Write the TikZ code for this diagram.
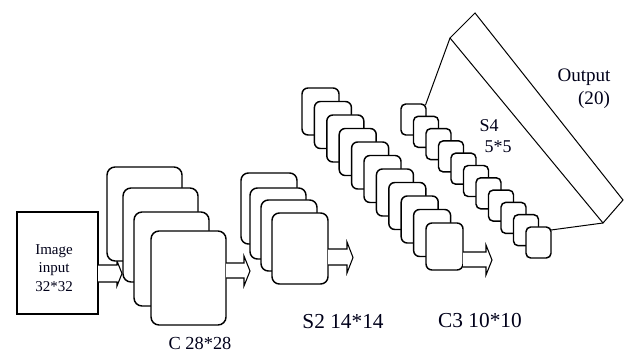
\documentclass[tikz,border=0pt]{standalone}
\usepackage{fontspec}
\setmainfont{Liberation Serif}
\usetikzlibrary{calc}
\begin{document}
\begin{tikzpicture}[x=0.75pt,y=-0.75pt,
  fmap/.style={draw=black, fill=white, line width=1.1pt, rounded corners=#1,
    inner sep=0pt, outer sep=0pt, anchor=north west},
  fmap/.default=5.5pt,
  inbox/.style={draw=black, fill=white, line width=1.1pt, inner sep=0pt,
    outer sep=0pt, anchor=north west, minimum width=60.75pt, minimum height=76.5pt},
  cmap/.style={fmap=6pt, minimum width=56.25pt, minimum height=70.5pt},
  s2map/.style={fmap=5.5pt, minimum width=42pt, minimum height=53.25pt},
  c3map/.style={fmap=4.5pt, minimum width=27.75pt, minimum height=35.25pt},
  s4map/.style={fmap=3.5pt, minimum width=18.75pt, minimum height=23.25pt},
  barrow/.style={draw=black, fill=white, line width=0.8pt, line join=miter},
  outline/.style={draw=black, line width=0.75pt},
  lbl/.style={inner sep=0pt, text=black!90!blue}
]
\useasboundingbox (0,0) rectangle (630,352);

% input
\node[inbox] (in) at (17,212) {};
\node[lbl, align=center, font=\fontsize{11.25}{13.9}\selectfont] (intext) at (54,268) {Image\\input\\32*32};
\draw[barrow] (in.east |- 0,265) -- (117,265) -- (117,261) -- (122,273.5) -- (117,286) -- (117,282) -- (in.east |- 0,282);

% C layers
\node[cmap] (c1) at (107,167) {};
\node[cmap] (c2) at (123,188) {};
\node[cmap] (c3) at (134,212) {};
\node[cmap] (c4) at (151,231) {};
\draw[barrow] (c4.east |- 0,263) -- (244,263) -- (244,256) -- (250,271) -- (244,286) -- (244,278) -- (c4.east |- 0,278);

% S2 layers
\node[s2map] (s21) at (241,173) {};
\node[s2map] (s22) at (250,188) {};
\node[s2map] (s23) at (261,200) {};
\node[s2map] (s24) at (272,213) {};
\draw[barrow] (s24.east |- 0,249) -- (347,249) -- (347,242) -- (353,257.5) -- (347,273) -- (347,265) -- (s24.east |- 0,265);

% C3 layers
\foreach \i in {0,...,10} {
  \node[c3map] (cc\i) at ({302+12.4*\i},{88+13.5*\i}) {};
}
\draw[barrow] (cc10.east |- 0,252) -- (486,252) -- (486,245) -- (492,260) -- (486,275) -- (486,267) -- (cc10.east |- 0,267);

% S4 layers
\foreach \i in {0,...,10} {
  \node[s4map] (ss\i) at ({401+12.5*\i},{104+12.3*\i}) {};
}

% output
\coordinate (o1) at (450,38);
\coordinate (o2) at (475,13);
\coordinate (o3) at (623,200);
\coordinate (o4) at (603,223);
\draw[outline, line join=miter] (o1) -- (o2) -- (o3) -- (o4) -- cycle;
\draw[outline] ($(ss0.north east)+(-0.5,1)$) -- (o1);
\draw[outline] ($(ss10.north east)+(0,3)$) -- (o4);

% labels
\node[lbl, font=\fontsize{13.8}{16}\selectfont] (lc) at (200,343) {C 28*28};
\node[lbl, font=\fontsize{16}{18}\selectfont] (ls2) at (343,322) {S2 14*14};
\node[lbl, font=\fontsize{16}{18}\selectfont] (lc3) at (480,321) {C3 10*10};
\node[lbl, font=\fontsize{13.5}{16}\selectfont] (ls4) at (489,126) {S4};
\node[lbl, font=\fontsize{13.5}{16}\selectfont] (ls4b) at (498,147) {5*5};
\node[lbl, font=\fontsize{14.3}{16}\selectfont] (lo) at (584,77) {Output};
\node[lbl, font=\fontsize{14.3}{16}\selectfont] (lo2) at (594,100) {(20)};
\end{tikzpicture}
\end{document}
